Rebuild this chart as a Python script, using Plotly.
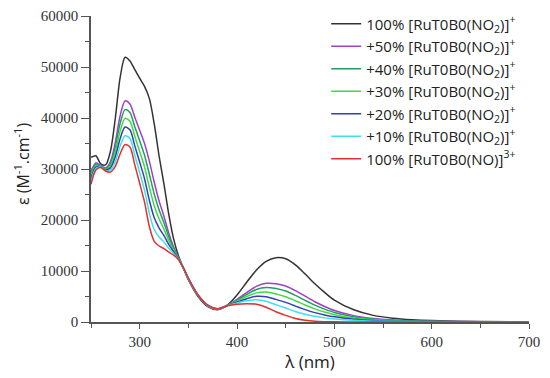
import plotly.graph_objects as go

wavelength = [250, 255, 260, 265, 270, 275, 280, 285, 290, 295, 300, 305, 310, 315, 320, 325, 330, 335, 340,
              345, 350, 360, 370, 380, 390, 400, 410, 420, 430, 440, 450, 460, 470, 480, 490, 500,
              520, 540, 560, 580, 600, 650, 700]

nitro_100 = [32300, 32600, 31000, 30800, 33500, 40000, 48000, 51900, 51200, 49500, 47800, 46200, 43800, 38800,
             32500, 27000, 21000, 16200, 12900, 10500, 8300, 5000, 3000, 2400, 3300, 5300, 7800, 10200, 11900,
             12600, 12400, 11200, 9400, 7500, 5800, 4300, 2400, 1300, 750, 450, 280, 100, 50]
plus_50 = [29650, 31200, 30650, 30200, 31450, 35250, 40500, 43350, 42750, 40150, 37600, 35000, 31500, 27400,
           23700, 20700, 17350, 14650, 12550, 10550, 8450, 5150, 3150, 2500, 3250, 4440, 5780, 6980, 7580,
           7510, 7070, 6160, 5060, 3970, 3040, 2250, 1250, 680, 390, 230, 150, 50, 25]
plus_40 = [29120, 30920, 30580, 30080, 31040, 34300, 39000, 41640, 41060, 38280, 35520, 32700, 28940, 25080,
           21940, 19440, 16620, 14340, 12480, 10560, 8480, 5180, 3180, 2520, 3240, 4270, 5410, 6380, 6770,
           6560, 6070, 5220, 4240, 3310, 2530, 1870, 1040, 560, 320, 190, 120, 40, 20]
plus_30 = [28590, 30640, 30510, 29960, 30630, 33350, 37500, 39930, 39370, 36410, 33440, 30400, 26380, 22760,
           20180, 18180, 15890, 14030, 12410, 10570, 8510, 5210, 3210, 2540, 3230, 4090, 4990, 5710, 5870,
           5500, 4960, 4170, 3340, 2580, 1950, 1440, 800, 430, 250, 150, 90, 30, 15]
plus_20 = [28060, 30360, 30440, 29840, 30220, 32400, 36000, 38220, 37680, 34540, 31360, 28100, 23820, 20440,
           18420, 16920, 15160, 13720, 12340, 10580, 8540, 5240, 3240, 2560, 3220, 3910, 4570, 5040, 4970,
           4440, 3850, 3120, 2430, 1840, 1380, 1010, 560, 300, 170, 100, 65, 25, 10]
plus_10 = [27530, 30080, 30370, 29720, 29810, 31450, 34500, 36510, 35990, 32670, 29280, 25800, 21260, 18120,
           16660, 15660, 14430, 13410, 12270, 10590, 8570, 5270, 3270, 2580, 3210, 3730, 4150, 4370, 4070,
           3380, 2740, 2070, 1530, 1110, 810, 590, 320, 170, 100, 60, 35, 15, 5]
nitrosyl_100 = [27000, 29800, 30300, 29600, 29400, 30500, 33000, 34800, 34300, 30800, 27200, 23500, 18700, 15800,
                14900, 14400, 13700, 13100, 12200, 10600, 8600, 5300, 3300, 2600, 3200, 3500, 3600, 3500, 2900,
                2000, 1300, 700, 350, 150, 60, 30, 10, 0, 0, 0, 0, 0, 0]

series_names = [
    "100% [RuT0B0(NO<sub>2</sub>)]<sup>+</sup>",
    "+50% [RuT0B0(NO<sub>2</sub>)]<sup>+</sup>",
    "+40% [RuT0B0(NO<sub>2</sub>)]<sup>+</sup>",
    "+30% [RuT0B0(NO<sub>2</sub>)]<sup>+</sup>",
    "+20% [RuT0B0(NO<sub>2</sub>)]<sup>+</sup>",
    "+10% [RuT0B0(NO<sub>2</sub>)]<sup>+</sup>",
    "100% [RuT0B0(NO)]<sup>3+</sup>",
]
series_values = [nitro_100, plus_50, plus_40, plus_30, plus_20, plus_10, nitrosyl_100]
series_colors = ["#333333", "#a040c8", "#1fa060", "#44d844", "#3040b8", "#40e0e8", "#e03030"]

x_ticks = [300, 400, 500, 600, 700]
x_tick_labels = ["300", "400", "500", "600", "700"]
y_ticks = [0, 10000, 20000, 30000, 40000, 50000, 60000]
y_tick_labels = ["0", "10000", "20000", "30000", "40000", "50000", "60000"]

fig = go.Figure()
for name, vals, col in zip(series_names, series_values, series_colors):
    fig.add_trace(go.Scatter(x=wavelength, y=vals, mode="lines", name=name,
                             line=dict(color=col, width=1.5, shape="spline", smoothing=0.8)))

axis_col = "#555555"
fig.update_layout(
    width=550, height=378,
    margin=dict(l=91, r=21, t=16, b=56, autoexpand=False),
    paper_bgcolor="white", plot_bgcolor="white",
    showlegend=True,
    legend=dict(x=0.537, y=1.028, xanchor="left", yanchor="top",
                font=dict(family="Open Sans", size=15, color="#222"),
                itemwidth=30, bgcolor="rgba(0,0,0,0)"),
    xaxis=dict(range=[250, 700], tickvals=x_ticks, ticktext=x_tick_labels, showgrid=False, zeroline=False,
               showline=True, linecolor=axis_col, linewidth=1.5, automargin=False,
               ticks="outside", ticklen=5, tickcolor=axis_col, tickwidth=1.2,
               minor=dict(dtick=50, ticks="outside", ticklen=4, tickcolor=axis_col, tickwidth=1.2, showgrid=False),
               tickfont=dict(family="Liberation Serif", size=15, color="#333"),
               title=dict(text="λ (nm)", font=dict(family="Open Sans", size=17, color="#222"), standoff=3)),
    yaxis=dict(range=[0, 60000], tickvals=y_ticks, ticktext=y_tick_labels, showgrid=False, zeroline=False,
               showline=True, linecolor=axis_col, linewidth=1.5, automargin=False,
               ticks="outside", ticklen=8, tickcolor=axis_col, tickwidth=1.2,
               minor=dict(dtick=5000, ticks="outside", ticklen=4, tickcolor=axis_col, tickwidth=1.2, showgrid=False),
               tickfont=dict(family="Liberation Serif", size=15, color="#333")),
    annotations=[dict(text="ε (M<sup>-1</sup>.cm<sup>-1</sup>)", textangle=-90, showarrow=False,
                      xref="paper", yref="paper", x=-0.1575, y=0.516, xanchor="center", yanchor="middle",
                      font=dict(family="Open Sans", size=16, color="#222"))],
)

fig.write_html("out.html", config={"displayModeBar": False},
               post_script="document.body.style.margin='0';document.body.style.overflow='hidden';")
